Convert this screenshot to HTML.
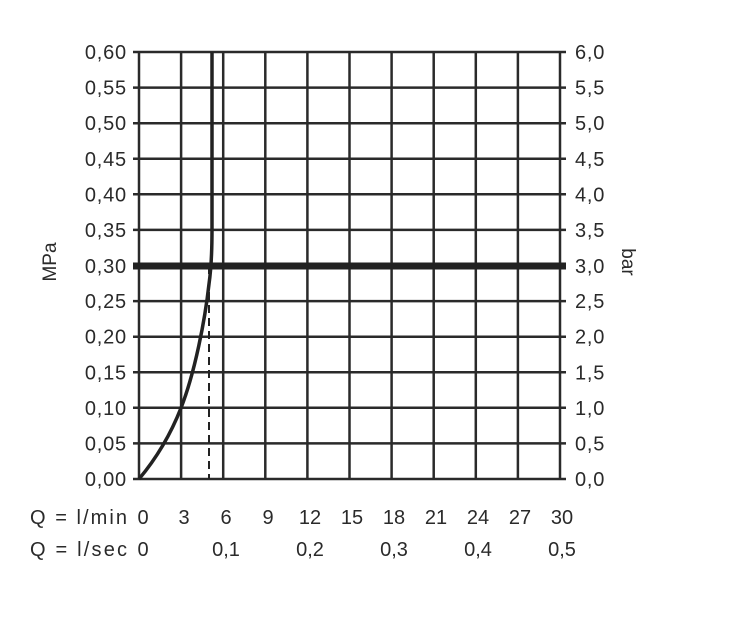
<!DOCTYPE html>
<html><head><style>body{margin:0;background:#fff}</style></head><body>
<svg width="752" height="630" xmlns="http://www.w3.org/2000/svg" font-family="Liberation Sans, DejaVu Sans, sans-serif" fill="#2a2a2a">
<g stroke="#2a2a2a" stroke-width="2.5">
<line x1="133" y1="52" x2="566" y2="52"/><line x1="133" y1="87.6" x2="566" y2="87.6"/><line x1="133" y1="123.2" x2="566" y2="123.2"/><line x1="133" y1="158.8" x2="566" y2="158.8"/><line x1="133" y1="194.3" x2="566" y2="194.3"/><line x1="133" y1="229.9" x2="566" y2="229.9"/><line x1="133" y1="301.1" x2="566" y2="301.1"/><line x1="133" y1="336.7" x2="566" y2="336.7"/><line x1="133" y1="372.3" x2="566" y2="372.3"/><line x1="133" y1="407.8" x2="566" y2="407.8"/><line x1="133" y1="443.4" x2="566" y2="443.4"/><line x1="133" y1="479" x2="566" y2="479"/>
<line x1="139" y1="52" x2="139" y2="479"/><line x1="181.1" y1="52" x2="181.1" y2="479"/><line x1="223.2" y1="52" x2="223.2" y2="479"/><line x1="265.3" y1="52" x2="265.3" y2="479"/><line x1="307.4" y1="52" x2="307.4" y2="479"/><line x1="349.5" y1="52" x2="349.5" y2="479"/><line x1="391.6" y1="52" x2="391.6" y2="479"/><line x1="433.7" y1="52" x2="433.7" y2="479"/><line x1="475.8" y1="52" x2="475.8" y2="479"/><line x1="517.9" y1="52" x2="517.9" y2="479"/><line x1="560" y1="52" x2="560" y2="479"/>
</g>
<line x1="133" y1="266" x2="566" y2="266" stroke="#222" stroke-width="7"/>
<line x1="209" y1="266" x2="209" y2="479" stroke="#222" stroke-width="2" stroke-dasharray="8,5"/>
<path d="M139,479 C155,460 170,436 181,408 C195,372 205,320 209,284 C211,270 212,250 212,230 L212,52" fill="none" stroke="#222" stroke-width="3.5"/>
<g font-size="20" text-anchor="end" letter-spacing="0.8">
<text x="127" y="59">0,60</text><text x="127" y="94.6">0,55</text><text x="127" y="130.2">0,50</text><text x="127" y="165.8">0,45</text><text x="127" y="201.3">0,40</text><text x="127" y="236.9">0,35</text><text x="127" y="273">0,30</text><text x="127" y="308.1">0,25</text><text x="127" y="343.7">0,20</text><text x="127" y="379.3">0,15</text><text x="127" y="414.8">0,10</text><text x="127" y="450.4">0,05</text><text x="127" y="486">0,00</text>
</g>
<g font-size="20" text-anchor="start" letter-spacing="0.8">
<text x="575" y="59">6,0</text><text x="575" y="94.6">5,5</text><text x="575" y="130.2">5,0</text><text x="575" y="165.8">4,5</text><text x="575" y="201.3">4,0</text><text x="575" y="236.9">3,5</text><text x="575" y="273">3,0</text><text x="575" y="308.1">2,5</text><text x="575" y="343.7">2,0</text><text x="575" y="379.3">1,5</text><text x="575" y="414.8">1,0</text><text x="575" y="450.4">0,5</text><text x="575" y="486">0,0</text>
</g>
<g font-size="20" text-anchor="middle">
<text x="143" y="524">0</text><text x="184" y="524">3</text><text x="226" y="524">6</text><text x="268" y="524">9</text><text x="310" y="524">12</text><text x="352" y="524">15</text><text x="394" y="524">18</text><text x="436" y="524">21</text><text x="478" y="524">24</text><text x="520" y="524">27</text><text x="562" y="524">30</text>
<text x="143" y="556">0</text><text x="226" y="556">0,1</text><text x="310" y="556">0,2</text><text x="394" y="556">0,3</text><text x="478" y="556">0,4</text><text x="562" y="556">0,5</text>
</g>
<text x="30" y="524" font-size="20" textLength="97" lengthAdjust="spacing">Q = l/min</text>
<text x="30" y="556" font-size="20" textLength="97" lengthAdjust="spacing">Q = l/sec</text>
<text transform="translate(56,262) rotate(-90)" font-size="19" text-anchor="middle">MPa</text>
<text transform="translate(622,262) rotate(90)" font-size="19" text-anchor="middle">bar</text>
</svg>
</body></html>
